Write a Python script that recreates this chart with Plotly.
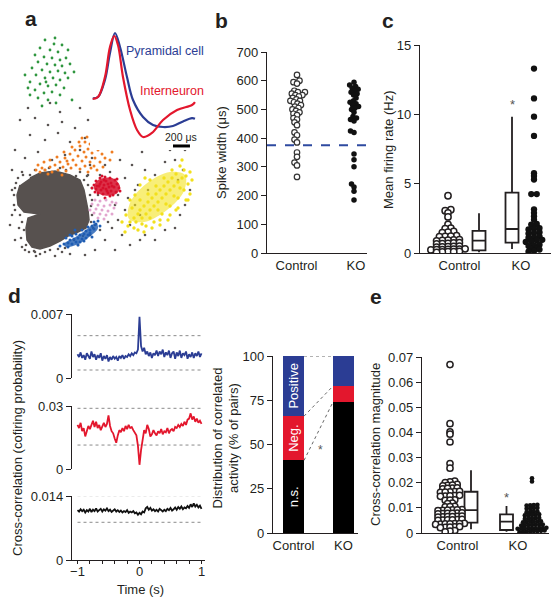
import math
import plotly.graph_objects as go

# page body keeps an 8px margin around the plot, so the figure is laid out
# in screen pixels and shifted by OFF
SCREEN_W, SCREEN_H = 559, 600
OFF = 8
W, H = SCREEN_W - OFF, SCREEN_H - OFF
FONT = "Liberation Sans, Arial, Helvetica, sans-serif"
INK = "#231f20"
BLUE = "#2b3d94"
RED = "#e3172d"

# ---------------- Panel a : cluster feature space ----------------
gray_blob = [(30,178),(40,173),(55,171),(70,175),(80,180),(84,190),(86,200),(88,210),(89,220),(86,228),
             (78,232),(68,236),(60,241),(50,246),(40,249),(32,247),(27,240),(26,228),(28,218),(40,214),
             (24,212),(18,205),(17,195),(20,185)]
gray_dots = [(20,120),(35,118),(48,125),(62,122),(75,128),(88,120),(100,127),(112,132),(125,125),(140,130),
             (150,138),(160,148),(30,135),(45,140),(58,133),(70,142),(85,138),(95,143),(108,140),(118,148),
             (130,145),(142,152),(15,150),(25,158),(38,152),(52,160),(65,155),(80,150),(92,158),(105,165),
             (120,160),(132,165),(145,170),(155,175),(12,170),(22,172),(110,172),(125,178),(138,185),(118,195),
             (128,198),(135,205),(125,210),(140,215),(118,220),(130,225),(112,228),(122,235),(105,240),(95,250),
             (85,255),(70,254),(55,256),(40,254),(25,250),(15,240),(10,225),(14,205),(12,190),(90,165),
             (100,175),(88,175),(115,205),(108,222),(100,230),(92,215),(98,195),(92,188),(135,190),(148,190),
             (145,235),(155,240),(165,230),(175,228),(180,215),(185,205),(190,190),(183,170),(175,160),(165,162),
             (170,150),(185,150),(178,180),(140,240),(130,245),(115,250),(60,112),(80,108),(105,112),(140,118),
             (28,108),(50,103),(150,105),(160,125),(172,135),(18,178),(14,195),(20,215),(24,230),(26,245),
             (35,252),(50,250),(65,248),(78,245),(90,235),(95,225),(92,200),(88,185),(80,172),(60,168),
             (45,170),(30,175),(22,222),(34,251),(91,222),(90,195),(16,183),(15,210),(21,238),(29,252),
             (45,252),(58,249),(87,176),(91,206),(93,228),(83,236),(74,240),(23,175),(35,170),(49,168),
             (66,170),(76,176),(84,180),(15,188),(12,215),(19,228),(22,247),(36,256),(62,252)]
green_pts = [(45,40),(55,38),(62,45),(40,48),(50,50),(58,52),(68,50),(35,55),(44,57),(52,58),(60,60),(66,58),
             (38,62),(47,64),(55,65),(62,66),(70,64),(32,68),(42,70),(50,72),(58,71),(65,73),(36,75),(45,78),
             (53,78),(60,80),(68,78),(30,82),(40,84),(48,86),(56,85),(64,88),(35,90),(44,93),(52,92),(60,95),
             (28,88),(38,98),(48,100),(56,103),(42,106),(72,100),(25,75),(74,72),(30,95),(54,44),(46,82)]
orange_pts = [(85,142),(90,144),(95,146),(80,146),(88,149),(98,150),(75,150),(84,152),(92,153),(102,154),
              (70,154),(78,156),(86,157),(95,158),(105,158),(65,158),(73,160),(82,161),(90,162),(100,162),
              (60,162),(68,164),(76,165),(85,166),(94,166),(55,165),(63,167),(71,168),(80,169),(50,167),
              (58,170),(66,171),(45,170),(52,172),(40,172),(48,174),(92,140),(82,138),(108,148),(110,160),
              (97,170),(88,172),(62,175),(42,168),(100,143),(38,165),(44,162),(50,160),(57,157),(64,152),
              (72,147),(79,142),(87,137),(96,139),(104,145),(112,152),(36,170),(103,167),(91,168),(67,161)]
red_core = [(98,180),(112,178),(120,186),(116,194),(102,195),(94,188)]
red_pts = [(100,178),(105,177),(110,178),(115,180),(96,181),(101,182),(106,181),(111,183),(117,184),(94,185),
           (99,186),(104,185),(109,187),(114,187),(119,188),(96,189),(101,190),(106,189),(111,191),(116,192),
           (98,193),(103,194),(108,193),(113,195),(92,188),(104,180),(108,184),(103,188),(112,186),(100,184),
           (107,191),(97,186),(117,179),(95,192),(110,196),(102,176),(120,191),(105,198)]
pink_pts = [(95,200),(100,201),(106,200),(112,202),(92,204),(98,205),(104,206),(110,205),(96,209),(102,210),
            (108,211),(114,208),(94,213),(100,214),(106,215),(98,218),(90,210),(112,214),(104,219),(116,203)]
blue_core = [(64,244),(74,238),(86,230),(96,223),(98,228),(88,238),(76,245),(66,247)]
blue_pts = [(64,244),(68,243),(72,244),(76,242),(70,240),(74,239),(78,238),(82,239),(66,238),(80,235),
            (84,234),(88,235),(76,234),(72,236),(86,231),(90,230),(94,229),(82,230),(88,227),(92,226),
            (96,224),(98,221),(94,222),(86,238),(80,242),(60,246),(68,247),(90,233),(84,241),(78,245),
            (100,226),(75,230),(92,237),(70,235)]
yellow_core = [(185,175),(184,191),(167,210),(144,222),(129,219),(130,203),(146,184),(170,172)]
yellow_pts = [(130,222),(134,218),(138,214),(136,222),(142,218),(146,214),(140,210),(144,206),(150,210),
              (154,206),(148,202),(152,198),(158,202),(162,198),(156,194),(160,190),(166,194),(170,190),
              (164,186),(168,182),(174,186),(178,182),(172,178),(176,174),(182,178),(186,176),(180,188),
              (174,196),(166,204),(158,210),(150,218),(142,224),(134,228),(128,226),(146,226),(154,222),
              (162,214),(170,206),(178,198),(184,190),(188,184),(184,170),(190,172),(126,215),(132,208),
              (140,200),(148,194),(156,186),(164,178),(172,170),(180,166),(138,230),(152,228),(168,220),
              (176,210),(186,200),(190,194),(144,232),(160,225),(125,232),(140,185),(150,180),(135,195),
              (170,215),(178,208),(160,220),(130,200),(188,200),(145,178),(182,160),(192,180),(122,222)]

# average spike waveforms (time in us, normalised amplitude)
wave_t_pyr = [32, 94, 176, 235, 294, 353, 435, 506, 624, 741, 859, 976, 1094, 1200, 1235]
wave_a_pyr = [-0.005, 0.015, 0.277, 0.692, 1.0, 0.785, 0.323, -0.031, -0.292, -0.415, -0.446, -0.431, -0.36, -0.31, -0.32]
wave_t_int = [32, 94, 176, 235, 285, 329, 388, 471, 553, 624, 729, 859, 1024, 1200, 1235]
wave_a_int = [-0.015, 0.015, 0.323, 0.785, 0.954, 0.815, 0.323, -0.185, -0.492, -0.6, -0.538, -0.338, -0.185, -0.108, -0.062]
scale_bar_us = 200

# ---------------- Panel b : spike width ----------------
groups = ["Control", "KO"]
b_ctrl = [620, 600, 595, 590, 565, 560, 560, 555, 550, 550, 545, 540, 535, 530, 530, 525, 520, 515, 510,
          505, 500, 495, 490, 485, 480, 470, 465, 455, 445, 420, 410, 395, 385, 350, 335, 315, 305, 265]
b_ko = [595, 585, 580, 575, 570, 565, 560, 555, 550, 540, 530, 525, 520, 515, 510, 505, 500, 490, 475,
        470, 465, 460, 425, 420, 345, 325, 300, 240, 230, 215, 185]
b_threshold = 375

# ---------------- Panel c : mean firing rate ----------------
c_ctrl = [4.13, 3.12, 3.05, 2.9, 2.6, 2.07, 1.8, 1.76, 1.55, 1.5, 1.46, 1.25, 1.2, 1.22, 1.18, 0.95, 0.92,
          0.9, 0.97, 0.88, 0.7, 0.72, 0.68, 0.65, 0.74, 0.45, 0.48, 0.42, 0.5, 0.44, 0.28, 0.25, 0.3, 0.22,
          0.26, 0.24, 0.27, 0.1, 0.08, 0.12, 0.05, 0.1]
c_ko = [13.3, 11.15, 9.83, 8.44, 5.75, 5.55, 5.3, 4.25, 4.25, 3.15, 2.9, 2.65, 2.4, 2.1, 2.05, 1.8, 1.75,
        1.7, 1.5, 1.45, 1.4, 1.2, 1.15, 1.1, 0.95, 0.9, 0.85, 0.8, 0.6, 0.55, 0.5, 0.35, 0.3, 0.25, 0.15, 0.1]
# box stats: lower whisker, q1, median, q3, upper whisker
c_box_ctrl = [0.05, 0.19, 0.89, 1.59, 2.86]
c_box_ko = [0.29, 0.75, 1.73, 4.35, 9.83]

# ---------------- Panel d : cross-correlograms ----------------
t_bins = [round(-1 + 0.025 * i, 3) for i in range(81)]
cc_pos = [2.6,2.3,2.8,2.2,2.5,2.0,2.7,2.4,2.1,2.9,2.3,2.6,2.0,2.5,2.2,2.7,1.9,2.4,2.1,2.5,1.8,2.3,2.0,2.4,
          2.1,2.3,1.9,2.4,2.2,2.5,2.1,2.4,2.3,2.6,2.4,2.7,2.5,2.8,2.7,3.1,6.7,3.5,2.9,3.3,2.6,2.9,2.4,2.8,
          2.2,2.7,2.5,3.0,2.4,2.9,2.6,3.1,2.3,2.8,2.5,3.0,2.2,2.7,2.9,2.1,2.8,2.4,3.0,2.2,2.7,2.5,2.9,2.1,
          2.6,2.3,2.8,2.2,2.7,2.4,2.9,2.3,2.7]
cc_neg = [21.0,19.5,22.0,18.0,19.5,15.5,18.0,20.5,19.0,21.5,23.0,20.0,22.5,19.5,21.0,18.5,20.5,22.0,20.0,
          21.5,25.5,20.5,18.0,17.0,14.5,12.5,16.0,18.5,17.5,19.5,18.0,20.5,19.0,21.0,19.5,20.0,18.5,17.5,
          16.0,11.0,2.0,9.0,15.0,18.5,17.0,21.0,19.0,15.5,16.5,18.5,17.0,16.0,18.0,17.0,19.0,16.5,18.0,
          17.5,19.5,17.0,18.5,19.0,18.0,20.0,19.5,21.0,20.0,21.5,20.5,22.5,21.0,23.5,24.0,26.5,23.5,25.0,
          22.5,24.0,22.0,23.0,21.5]
cc_ns = [10.9,10.6,11.1,10.7,11.0,10.4,10.9,10.6,11.2,10.5,11.0,10.7,11.3,10.6,10.9,11.2,10.6,11.1,10.8,
         11.3,10.7,11.0,10.5,10.9,11.1,10.6,10.9,10.5,10.8,10.4,10.7,10.5,10.9,10.3,10.6,10.4,10.7,10.2,
         10.4,9.9,10.3,10.0,10.6,10.4,11.3,11.6,11.0,11.4,10.8,11.1,10.7,11.0,10.6,11.2,10.9,10.6,11.0,
         10.7,11.2,10.9,11.4,10.8,11.1,11.5,11.0,11.6,11.2,11.7,11.1,11.5,11.3,11.8,11.4,12.2,11.6,12.4,
         11.7,12.1,11.5,11.9,11.2]
cc_bounds_pos = [0.00463, 0.000875]
cc_bounds_neg = [0.0289, 0.0114]
cc_bounds_ns = [0.01407, 0.00825]
cc_ymax = [0.007, 0.03, 0.014]

# distribution of correlated activity (% of pairs)
ns_pct = [41, 74]
neg_pct = [25, 9]
pos_pct = [34, 17]

# ---------------- Panel e : cross-correlation magnitude ----------------
e_ctrl = [67.0, 43.5, 40.2, 39.3, 36.2, 27.6, 25.8,
          20.6, 20.3, 20.0, 19.3, 19.0, 18.8, 19.1, 17.9, 17.6, 17.8, 18.0, 16.5, 16.2, 16.4, 16.6, 16.3,
          14.9, 14.7, 14.6, 15.0, 14.8, 13.2, 13.0, 13.1, 11.9, 11.7, 10.6, 10.4, 10.5,
          9.2, 9.0, 9.3, 8.9, 9.1, 9.2, 7.9, 7.7, 7.8, 8.0, 7.6, 7.8, 6.6, 6.4, 6.5, 6.7, 6.3, 6.5,
          5.3, 5.1, 5.2, 5.4, 5.0, 5.2, 3.7, 3.5, 3.6, 3.8, 3.4, 3.6, 3.7, 2.4, 2.2, 2.3, 2.5, 2.1,
          1.0, 0.8, 0.5]
e_ko = [21.8, 20.5, 11.2, 11.0, 11.1, 10.9, 9.9, 9.7, 9.8, 10.0, 8.6, 8.4, 8.5, 8.3, 7.3, 7.1, 7.2, 7.0, 7.4,
        5.9, 5.7, 5.8, 6.0, 5.6, 4.6, 4.4, 4.5, 4.7, 4.3, 4.5, 3.3, 3.1, 3.2, 3.4, 3.0, 3.2, 3.3,
        2.0, 1.8, 1.9, 2.1, 1.7, 1.9, 2.0, 1.8, 1.9, 0.9, 0.7, 0.8, 1.0, 0.6, 0.8, 0.5, 0.4]
e_ctrl = [v / 1000 for v in e_ctrl]
e_ko = [v / 1000 for v in e_ko]
e_box_ctrl = [0.0015, 0.0041, 0.0091, 0.0164, 0.025]
e_box_ko = [0.0005, 0.0012, 0.0045, 0.0074, 0.0107]


# ---------------- helpers ----------------
def dom_x(a, b):
    return [(a - OFF) / W, (b - OFF) / W]


def dom_y(top, bottom):
    return [1 - (bottom - OFF) / H, 1 - (top - OFF) / H]


def unz(pts):
    return [p[0] for p in pts], [p[1] for p in pts]


def swarm(values, center, ppu, diam):
    """greedy beeswarm; x axis is in pixel units"""
    idx = sorted(range(len(values)), key=lambda i: values[i])
    placed = []
    xs = [center] * len(values)
    for i in idx:
        y = values[i] * ppu
        cands = [0.0]
        for xo, yo in placed:
            d = abs(y - yo)
            if d < diam:
                h = math.sqrt(diam * diam - d * d)
                cands.extend([xo - h, xo + h])
        cands.sort(key=lambda c: (abs(c), c))
        chosen = cands[-1]
        for c in cands:
            if all((c - xo) ** 2 + (y - yo) ** 2 >= diam * diam - 1e-6 for xo, yo in placed):
                chosen = c
                break
        placed.append((chosen, y))
        xs[i] = center + chosen
    return xs


def rows(values, center, ppu, binh, sp):
    """Prism-style scatter rows: near-equal values are spread side by side"""
    idx = sorted(range(len(values)), key=lambda i: values[i])
    grp = []
    for i in idx:
        y = values[i] * ppu
        if grp and y - grp[-1][0] < binh:
            grp[-1][1].append(i)
        else:
            grp.append([y, [i]])
    xs = [center] * len(values)
    for _, members in grp:
        n = len(members)
        for k, i in enumerate(members):
            xs[i] = center + (k - (n - 1) / 2) * sp
    return xs


fig = go.Figure()

# ---------- panel a ----------
gx, gy = unz(gray_dots)
fig.add_trace(go.Scatter(x=gx, y=gy, mode="markers", marker=dict(size=2.6, color="#5a5452"),
                         xaxis="x", yaxis="y", hoverinfo="skip"))
bx, by = unz(gray_blob)
fig.add_trace(go.Scatter(x=bx, y=by, mode="lines", fill="toself", fillcolor="#57514f",
                         line=dict(width=1.5, color="#57514f"), xaxis="x", yaxis="y", hoverinfo="skip"))
for core, col in [(red_core, "rgba(214,16,44,0.85)"), (blue_core, "rgba(30,92,178,0.8)"),
                  (yellow_core, "rgba(244,226,30,0.6)")]:
    cx, cy = unz(core)
    fig.add_trace(go.Scatter(x=cx + cx[:1], y=cy + cy[:1], mode="lines", fill="toself", fillcolor=col,
                             line=dict(width=0, shape="spline"), xaxis="x", yaxis="y", hoverinfo="skip"))
for pts, col, sz in [(green_pts, "#2f963f", 2.8), (orange_pts, "#ef7d22", 3), (red_pts, "#d6102c", 3),
                     (pink_pts, "#e2a6cf", 3), (blue_pts, "#1f5db3", 3), (yellow_pts, "#f2e01c", 3.4)]:
    px_, py_ = unz(pts)
    fig.add_trace(go.Scatter(x=px_, y=py_, mode="markers", marker=dict(size=sz, color=col),
                             xaxis="x", yaxis="y", hoverinfo="skip"))

fig.add_trace(go.Scatter(x=wave_t_pyr, y=wave_a_pyr, mode="lines", line=dict(color=BLUE, width=2.2, shape="spline"),
                         xaxis="x9", yaxis="y9"))
fig.add_trace(go.Scatter(x=wave_t_int, y=wave_a_int, mode="lines", line=dict(color=RED, width=2.2, shape="spline"),
                         xaxis="x9", yaxis="y9"))
fig.add_trace(go.Scatter(x=[976, 976 + scale_bar_us], y=[-0.738, -0.738], mode="lines",
                         line=dict(color="black", width=3), xaxis="x9", yaxis="y9"))

# ---------- panel b ----------
B_PPU = 201 / 700
fig.add_trace(go.Scatter(x=[0, 100], y=[b_threshold, b_threshold], mode="lines",
                         line=dict(color="#2e4aa0", width=2, dash="dash"), xaxis="x2", yaxis="y2"))
fig.add_trace(go.Scatter(x=swarm(b_ctrl, 30, B_PPU, 3.8), y=b_ctrl, mode="markers",
                         marker=dict(size=5.5, color="white", line=dict(color="#333", width=1.2)),
                         xaxis="x2", yaxis="y2"))
fig.add_trace(go.Scatter(x=swarm(b_ko, 87, B_PPU, 3.8), y=b_ko, mode="markers",
                         marker=dict(size=5.5, color="#111"), xaxis="x2", yaxis="y2"))


# ---------- panel c ----------
def add_box(stats, xpos, ax):
    fig.add_trace(go.Box(x=[xpos], lowerfence=[stats[0]], q1=[stats[1]], median=[stats[2]], q3=[stats[3]],
                         upperfence=[stats[4]], width=13, whiskerwidth=0, fillcolor="white",
                         line=dict(color=INK, width=1.8), boxpoints=False, xaxis="x" + ax, yaxis="y" + ax))


C_PPU = 208 / 15
add_box(c_box_ctrl, 59, "3")
add_box(c_box_ko, 92, "3")
fig.add_trace(go.Scatter(x=rows(c_ctrl, 28, C_PPU, 1.5, 5.7), y=c_ctrl, mode="markers",
                         marker=dict(size=6.3, color="white", line=dict(color=INK, width=1.5)),
                         xaxis="x3", yaxis="y3"))
fig.add_trace(go.Scatter(x=rows(c_ko, 114, C_PPU, 2.2, 5.5), y=c_ko, mode="markers",
                         marker=dict(size=6.3, color="#111"), xaxis="x3", yaxis="y3"))

# ---------- panel d (correlograms) ----------
for trace_vals, col, bounds, ax in [(cc_pos, BLUE, cc_bounds_pos, "4"), (cc_neg, RED, cc_bounds_neg, "5"),
                                    (cc_ns, "#111", cc_bounds_ns, "6")]:
    for b in bounds:
        fig.add_trace(go.Scatter(x=[-1, 1], y=[b, b], mode="lines", line=dict(color="#8a8a8a", width=1, dash="dot"),
                                 xaxis="x" + ax, yaxis="y" + ax))
    fig.add_trace(go.Scatter(x=t_bins, y=[v / 1000 for v in trace_vals], mode="lines",
                             line=dict(color=col, width=1.8), xaxis="x" + ax, yaxis="y" + ax))

# ---------- panel d (distribution bars) ----------
BAR_W = 0.42
bx_pos = [0, 1]
fig.add_trace(go.Bar(x=bx_pos, y=ns_pct, width=BAR_W, marker=dict(color="black", line=dict(width=0)),
                     xaxis="x7", yaxis="y7"))
fig.add_trace(go.Bar(x=bx_pos, y=neg_pct, width=BAR_W, marker=dict(color=RED, line=dict(width=0)),
                     xaxis="x7", yaxis="y7"))
fig.add_trace(go.Bar(x=bx_pos, y=pos_pct, width=BAR_W, marker=dict(color=BLUE, line=dict(width=0)),
                     xaxis="x7", yaxis="y7"))
cum_ctrl = [ns_pct[0], ns_pct[0] + neg_pct[0], ns_pct[0] + neg_pct[0] + pos_pct[0]]
cum_ko = [ns_pct[1], ns_pct[1] + neg_pct[1], ns_pct[1] + neg_pct[1] + pos_pct[1]]
for a, b in zip(cum_ctrl, cum_ko):
    fig.add_trace(go.Scatter(x=[BAR_W / 2, 1 - BAR_W / 2], y=[a, b], mode="lines",
                             line=dict(color="#555", width=0.9, dash="dot"), xaxis="x7", yaxis="y7"))

# ---------- panel e ----------
E_PPU = 176 / 0.07
add_box(e_box_ctrl, 49, "8")
add_box(e_box_ko, 84.5, "8")
fig.add_trace(go.Scatter(x=rows(e_ctrl, 28, E_PPU, 2.0, 4.8), y=e_ctrl, mode="markers",
                         marker=dict(size=6.2, color="white", line=dict(color=INK, width=1.5)),
                         xaxis="x8", yaxis="y8"))
fig.add_trace(go.Scatter(x=rows(e_ko, 110, E_PPU, 2.0, 3.6), y=e_ko, mode="markers",
                         marker=dict(size=4.6, color="#111"), xaxis="x8", yaxis="y8"))

# ---------------- layout ----------------
AX = dict(showgrid=False, zeroline=False, showline=True, linecolor=INK, linewidth=1.2,
          ticks="outside", ticklen=5, tickwidth=1.2, tickcolor=INK, automargin=False,
          tickfont=dict(size=13, family=FONT, color=INK))
HIDDEN = dict(visible=False, showgrid=False, zeroline=False, automargin=False)


def ax(**kw):
    d = dict(AX)
    d.update(kw)
    return d


layout = dict(
    template="none",
    width=W, height=H, margin=dict(l=0, r=0, t=0, b=0, pad=0, autoexpand=False),
    paper_bgcolor="white", plot_bgcolor="white", showlegend=False, barmode="stack",
    font=dict(family=FONT, size=13, color=INK),
    # panel a
    xaxis=dict(HIDDEN, domain=dom_x(8, 200), range=[8, 200], anchor="y"),
    yaxis=dict(HIDDEN, domain=dom_y(12, 262), range=[262, 12], anchor="x"),
    xaxis9=dict(HIDDEN, domain=dom_x(90, 200), range=[0, 1294], anchor="y9"),
    yaxis9=dict(HIDDEN, domain=dom_y(28, 150), range=[-0.8, 1.077], anchor="x9"),
    # panel b
    xaxis2=ax(domain=dom_x(267, 367), range=[0, 100], anchor="y2", ticks="",
              tickvals=[29.5, 89], ticktext=groups),
    yaxis2=ax(domain=dom_y(52, 253), range=[0, 700], anchor="x2", tickvals=list(range(0, 701, 100))),
    # panel c
    xaxis3=ax(domain=dom_x(420, 552), range=[0, 132], anchor="y3", ticks="",
              tickvals=[39.5, 101], ticktext=groups),
    yaxis3=ax(domain=dom_y(45, 253), range=[0, 15], anchor="x3", tickvals=[0, 5, 10, 15]),
    # panel d correlograms
    xaxis4=dict(HIDDEN, domain=dom_x(72, 205), range=[-1.0887, 1.0565], anchor="y4"),
    yaxis4=ax(domain=dom_y(314, 378), range=[0, cc_ymax[0]], anchor="x4", tickvals=[0, cc_ymax[0]],
              ticktext=["0", "0.007"]),
    xaxis5=dict(HIDDEN, domain=dom_x(72, 205), range=[-1.0887, 1.0565], anchor="y5"),
    yaxis5=ax(domain=dom_y(406, 469), range=[0, cc_ymax[1]], anchor="x5", tickvals=[0, cc_ymax[1]],
              ticktext=["0", "0.03"]),
    xaxis6=ax(domain=dom_x(72, 205), range=[-1.0887, 1.0565], anchor="y6", ticklen=3,
              ticklabelstandoff=-4,
              tickvals=[round(-1 + 0.2 * i, 1) for i in range(11)],
              ticktext=["\u22121", "", "", "", "", "0", "", "", "", "", "1"]),
    yaxis6=ax(domain=dom_y(496, 560), range=[0, cc_ymax[2]], anchor="x6", tickvals=[0, cc_ymax[2]],
              ticktext=["0", "0.014"]),
    # panel d bars
    xaxis7=ax(domain=dom_x(273, 358), range=[-0.41, 1.29], anchor="y7", ticks="",
              tickvals=bx_pos, ticktext=groups),
    yaxis7=ax(domain=dom_y(356, 533), range=[0, 100], anchor="x7", tickvals=[0, 25, 50, 75, 100]),
    # panel e
    xaxis8=ax(domain=dom_x(422, 549), range=[0, 127], anchor="y8", ticks="",
              tickvals=[35.5, 96], ticktext=groups),
    yaxis8=ax(domain=dom_y(357, 533), range=[0, 0.07], anchor="x8",
              tickvals=[0, 0.01, 0.02, 0.03, 0.04, 0.05, 0.06, 0.07],
              ticktext=["0", "0.01", "0.02", "0.03", "0.04", "0.05", "0.06", "0.07"]),
)
fig.update_layout(**layout)


def ann(text, xp, yp, size=13, color=INK, angle=0, bold=False, xanchor="center", yanchor="middle"):
    fig.add_annotation(text=("<b>%s</b>" % text) if bold else text, x=(xp - OFF) / W, y=1 - (yp - OFF) / H,
                       xref="paper", yref="paper", showarrow=False, textangle=angle,
                       xanchor=xanchor, yanchor=yanchor,
                       font=dict(size=size, color=color, family=FONT))


# panel letters
for letter, xp, yp in [("a", 31, 19), ("b", 222, 20), ("c", 388, 20), ("d", 14, 295), ("e", 376, 296)]:
    ann(letter, xp, yp, size=21, bold=True)

# panel a labels
ann("Pyramidal cell", 124, 51, size=12.5, color=BLUE, xanchor="left")
ann("Interneuron", 138, 91, size=12.5, color=RED, xanchor="left")
fig.add_annotation(text="200 \u03bcs", x=976 + scale_bar_us / 2, y=-0.6, xref="x9", yref="y9",
                   showarrow=False, font=dict(size=10.5, color=INK, family=FONT))

# axis titles
ann("Spike width (\u03bcs)", 221, 153, angle=-90)
ann("Mean firing rate (Hz)", 388, 150, angle=-90)
ann("Cross-correlation (cofiring probability)", 17, 448, angle=-90)
ann("Distribution of correlated<br>activity (% of pairs)", 225.5, 438, angle=-90)
ann("Cross-correlation magnitude", 375, 445, angle=-90)
ann("Time (s)", 140, 589)

# significance stars
fig.add_annotation(text="*", x=92, y=10.74, xref="x3", yref="y3", showarrow=False,
                   font=dict(size=13, color="#555", family=FONT))
fig.add_annotation(text="*", x=84.5, y=0.0142, xref="x8", yref="y8", showarrow=False,
                   font=dict(size=13, color="#555", family=FONT))
fig.add_annotation(text="*", x=0.53, y=47, xref="x7", yref="y7", showarrow=False,
                   font=dict(size=12, color="#555", family=FONT))

# labels inside control bar segments
for label, lo, hi in [("n.s.", 0, cum_ctrl[0]), ("Neg.", cum_ctrl[0], cum_ctrl[1]),
                      ("Positive", cum_ctrl[1], cum_ctrl[2])]:
    fig.add_annotation(text=label, x=0, y=(lo + hi) / 2, xref="x7", yref="y7", showarrow=False,
                       textangle=-90, font=dict(size=13, color="white", family=FONT))

fig.write_html("out.html")
